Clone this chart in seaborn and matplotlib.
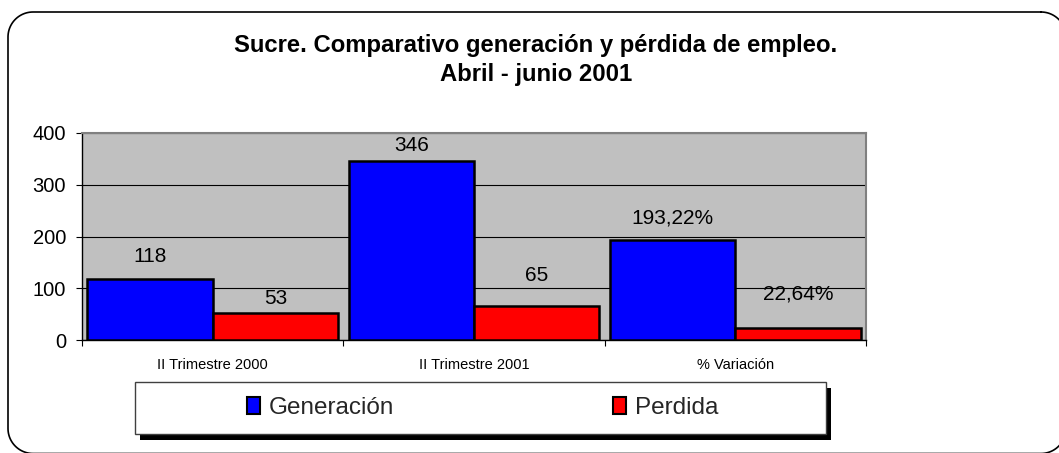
import matplotlib
matplotlib.use("Agg")
import matplotlib.pyplot as plt
from matplotlib.patches import Rectangle
from matplotlib.lines import Line2D
from matplotlib.ticker import FixedLocator
import seaborn as sns
import pandas as pd
import numpy as np

# Chart data
categories = ["II Trimestre 2000", "II Trimestre 2001", "% Variación"]
series_names = ["Generación", "Perdida"]
generacion = [118, 346, 193.22]
perdida = [53, 65, 22.64]
is_percent = [False, False, True]
y_ticks = [0, 100, 200, 300, 400]

colors = ["#0000FF", "#FF0000"]

sns.set_theme(style="white")
plt.rcParams["font.family"] = ["Liberation Sans", "DejaVu Sans"]

df = pd.DataFrame({
    "categoria": categories * 2,
    "serie": [series_names[0]] * 3 + [series_names[1]] * 3,
    "valor": generacion + perdida,
})

W, H = 1059, 453
DPI = 100
fig = plt.figure(figsize=(W / DPI, H / DPI), dpi=DPI)
fig.patch.set_facecolor("white")


def rounded_outline(x0, y0, x1, y1, r, n=24):
    """Closed outline of a rounded rectangle in pixel coords (y downwards)."""
    pts = []
    corners = [(x1 - r, y0 + r, -90, 0), (x1 - r, y1 - r, 0, 90),
               (x0 + r, y1 - r, 90, 180), (x0 + r, y0 + r, 180, 270)]
    for cx, cy, a0, a1 in corners:
        t = np.radians(np.linspace(a0, a1, n))
        pts.extend(zip(cx + r * np.cos(t), cy + r * np.sin(t)))
    pts.append(pts[0])
    xs, ys = zip(*pts)
    return np.array(xs), np.array(ys)


# Rounded outer frame (runs past the right and bottom edges of the canvas)
fxs, fys = rounded_outline(8, 12, 1066, 453.5, 25)
fig.add_artist(Line2D(fxs / W, 1 - fys / H, transform=fig.transFigure,
                      color="black", linewidth=1.2))

ax = fig.add_axes([82 / W, 1 - 340 / H, (866 - 82) / W, (340 - 133) / H])
ax.set_facecolor("#C0C0C0")

sns.barplot(data=df, x="categoria", y="valor", hue="serie", order=categories,
            hue_order=series_names, palette=colors, width=0.96, gap=0,
            edgecolor="black", linewidth=1.8, saturation=1, ax=ax,
            legend=True, zorder=3)

handles, labels = ax.get_legend_handles_labels()
ax.get_legend().remove()

ax.set_ylim(0, 400)
ax.set_xlim(-0.5, 2.5)
ax.set_yticks(y_ticks)
ax.set_yticklabels([str(t) for t in y_ticks], fontsize=14.5, color="black")
ax.set_xticks(range(len(categories)))
ax.set_xticklabels(categories, fontsize=10.5, color="black")
ax.xaxis.set_minor_locator(FixedLocator([-0.5, 0.5, 1.5, 2.5]))
ax.tick_params(axis="x", which="major", length=0, pad=13)
ax.tick_params(axis="x", which="minor", length=4.5, width=0.8, color="black",
               direction="out", bottom=True)
ax.tick_params(axis="y", which="major", length=4.5, width=0.8, color="black",
               direction="out", left=True, pad=7)
ax.set_xlabel("")
ax.set_ylabel("")

ax.yaxis.grid(True, color="black", linewidth=0.8, zorder=1)
ax.set_axisbelow(True)
for side in ["left", "bottom"]:
    ax.spines[side].set_color("black")
    ax.spines[side].set_linewidth(1.0)
for side in ["top", "right"]:
    ax.spines[side].set_color("#808080")
    ax.spines[side].set_linewidth(1.5)


def fmt(v, pct):
    if pct:
        return f"{v:.2f}".replace(".", ",") + "%"
    return f"{v:g}"


# Value labels; vertical offsets in pixels above each bar top
label_offsets = {
    0: [22, 14],
    1: [15, 31],
    2: [22, 34],
}
series_values = [generacion, perdida]
for s_idx, container in enumerate(ax.containers):
    for c_idx, bar in enumerate(container):
        v = series_values[s_idx][c_idx]
        ax.annotate(fmt(v, is_percent[c_idx]),
                    xy=(bar.get_x() + bar.get_width() / 2, v),
                    xytext=(0, label_offsets[c_idx][s_idx]),
                    textcoords="offset pixels", ha="center", va="center",
                    fontsize=15, color="black", zorder=5)

# Title
fig.text(536 / W, 1 - 60 / H,
         "Sucre. Comparativo generación y pérdida de empleo.\nAbril - junio 2001",
         ha="center", va="center", fontsize=17.2, fontweight="bold",
         linespacing=1.35, color="black")

# Legend box with drop shadow
bx0, by0, bx1, by1 = 135, 382, 826, 434
shadow = Rectangle(((bx0 + 5) / W, 1 - (by1 + 6) / H), (bx1 - bx0) / W, (by1 - by0) / H,
                   transform=fig.transFigure, facecolor="black", edgecolor="none")
box = Rectangle((bx0 / W, 1 - by1 / H), (bx1 - bx0) / W, (by1 - by0) / H,
                transform=fig.transFigure, facecolor="white", edgecolor="#404040",
                linewidth=1.0)
fig.patches.extend([shadow, box])

leg = fig.legend(handles, labels, loc="center left",
                 bbox_to_anchor=(247 / W, 1 - 408 / H), ncol=2, frameon=False,
                 fontsize=17.5, handlelength=0.55, handleheight=0.65,
                 handletextpad=0.35, columnspacing=9.0, borderpad=0,
                 borderaxespad=0)
for h in leg.legend_handles:
    h.set_edgecolor("black")
    h.set_linewidth(1.5)

fig.savefig("out.png", dpi=DPI, facecolor="white")
